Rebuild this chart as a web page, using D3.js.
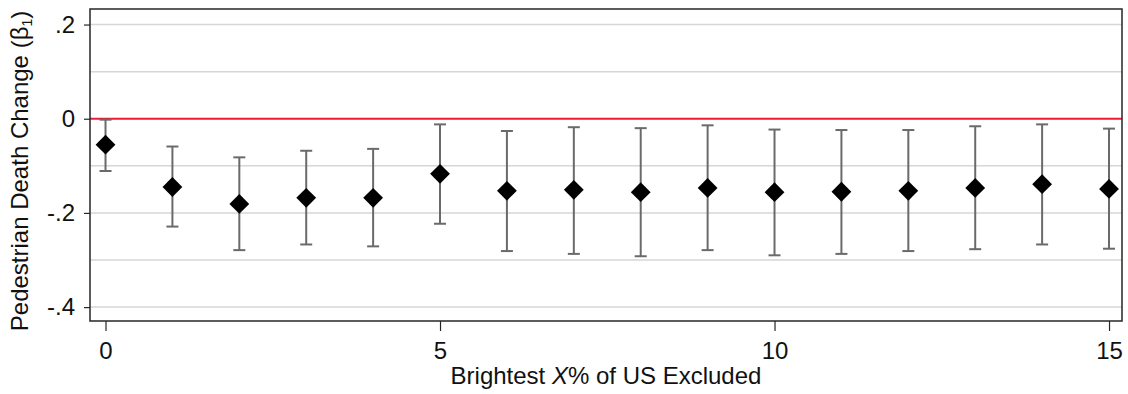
<!DOCTYPE html>
<html>
<head>
<meta charset="utf-8">
<script src="https://cdn.jsdelivr.net/npm/d3@7"></script>
<style>
  html, body { margin: 0; padding: 0; background: #fff; }
  svg { display: block; font-family: "Liberation Sans", Helvetica, Arial, sans-serif; }
</style>
</head>
<body>
<div id="chart"></div>
<script>
// Share of brightest US area excluded (%)
const excluded = [0, 1, 2, 3, 4, 5, 6, 7, 8, 9, 10, 11, 12, 13, 14, 15];
// Point estimate of beta_1 and its confidence interval
const beta = [-0.055, -0.145, -0.181, -0.168, -0.168, -0.117, -0.153, -0.151, -0.156, -0.147, -0.156, -0.155, -0.153, -0.147, -0.139, -0.149];
const lower = [-0.111, -0.229, -0.279, -0.267, -0.271, -0.223, -0.281, -0.287, -0.292, -0.279, -0.290, -0.287, -0.281, -0.277, -0.267, -0.276];
const upper = [-0.002, -0.059, -0.082, -0.068, -0.064, -0.012, -0.026, -0.018, -0.020, -0.014, -0.023, -0.024, -0.024, -0.016, -0.012, -0.021];

const yTicks = [0.2, 0, -0.2, -0.4];
const yTickLabels = ['.2', '0', '-.2', '-.4'];
const yGrid = [0.2, 0.1, -0.1, -0.2, -0.3, -0.4];
const xTicks = [0, 5, 10, 15];

const width = 1128;
const height = 394;
const frame = { left: 90, right: 1122, top: 9, bottom: 321 };

const svg = d3.select('#chart')
  .append('svg')
  .attr('width', width)
  .attr('height', height);

const x = d3.scaleLinear()
  .domain([-0.232, 15.194])
  .range([frame.left, frame.right]);

const y = d3.scaleLinear()
  .domain([-0.4295, 0.233])
  .range([frame.bottom, frame.top]);

// Grid lines
svg.append('g')
  .selectAll('line')
  .data(yGrid)
  .join('line')
  .attr('x1', frame.left)
  .attr('x2', frame.right)
  .attr('y1', d => y(d))
  .attr('y2', d => y(d))
  .attr('stroke', '#d6d6d6')
  .attr('stroke-width', 1.5);

// Zero reference line
svg.append('line')
  .attr('x1', frame.left)
  .attr('x2', frame.right)
  .attr('y1', y(0))
  .attr('y2', y(0))
  .attr('stroke', '#ec1c34')
  .attr('stroke-width', 2);

// Frame
svg.append('rect')
  .attr('x', frame.left)
  .attr('y', frame.top)
  .attr('width', frame.right - frame.left)
  .attr('height', frame.bottom - frame.top)
  .attr('fill', 'none')
  .attr('stroke', '#262626')
  .attr('stroke-width', 1.5);

// Axes
const yAxis = svg.append('g')
  .attr('transform', `translate(${frame.left},0)`)
  .call(d3.axisLeft(y)
    .tickValues(yTicks)
    .tickFormat((d, i) => yTickLabels[i])
    .tickSize(6)
    .tickPadding(9));

const xAxis = svg.append('g')
  .attr('transform', `translate(0,${frame.bottom})`)
  .call(d3.axisBottom(x)
    .tickValues(xTicks)
    .tickFormat(d3.format('d'))
    .tickSize(10)
    .tickPadding(11));

svg.selectAll('.domain').remove();
svg.selectAll('.tick line').attr('stroke', '#262626').attr('stroke-width', 1.2);
svg.selectAll('.tick text')
  .attr('fill', '#111')
  .attr('font-size', '24px')
  .attr('font-family', '"Liberation Sans", Helvetica, Arial, sans-serif');

// Error bars
const pts = excluded.map((e, i) => ({ e, b: beta[i], lo: lower[i], hi: upper[i] }));
const capHalf = 6;

const bars = svg.append('g')
  .attr('stroke', '#6a6a6a')
  .attr('stroke-width', 2)
  .selectAll('g')
  .data(pts)
  .join('g');

bars.append('line')
  .attr('x1', d => x(d.e)).attr('x2', d => x(d.e))
  .attr('y1', d => y(d.lo)).attr('y2', d => y(d.hi));
bars.append('line')
  .attr('x1', d => x(d.e) - capHalf).attr('x2', d => x(d.e) + capHalf)
  .attr('y1', d => y(d.lo)).attr('y2', d => y(d.lo));
bars.append('line')
  .attr('x1', d => x(d.e) - capHalf).attr('x2', d => x(d.e) + capHalf)
  .attr('y1', d => y(d.hi)).attr('y2', d => y(d.hi));

// Diamond markers
const diamond = d3.symbol().type(d3.symbolSquare).size(196);
svg.append('g')
  .selectAll('path')
  .data(pts)
  .join('path')
  .attr('d', diamond)
  .attr('transform', d => `translate(${x(d.e)},${y(d.b)}) rotate(45)`)
  .attr('fill', '#000');

// Axis titles
const xTitle = svg.append('text')
  .attr('x', (frame.left + frame.right) / 2)
  .attr('y', 384)
  .attr('text-anchor', 'middle')
  .attr('font-size', '24px')
  .attr('fill', '#111');
xTitle.append('tspan').text('Brightest ');
xTitle.append('tspan').attr('font-style', 'italic').text('X');
xTitle.append('tspan').text('% of US Excluded');

const yTitle = svg.append('text')
  .attr('transform', 'translate(28,171) rotate(-90)')
  .attr('text-anchor', 'middle')
  .attr('font-size', '24px')
  .attr('fill', '#111');
yTitle.append('tspan').text('Pedestrian Death Change (β');
yTitle.append('tspan').attr('font-size', '14px').attr('dy', '4').text('1');
yTitle.append('tspan').attr('dy', '-4').text(')');
</script>
</body>
</html>
